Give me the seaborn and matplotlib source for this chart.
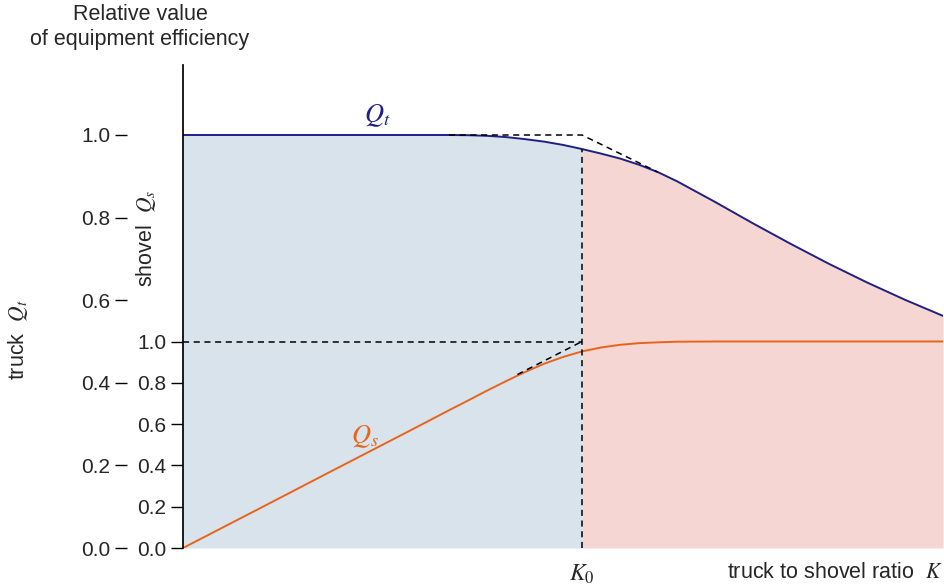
import matplotlib
matplotlib.use("Agg")
import matplotlib.pyplot as plt
import seaborn as sns
import numpy as np

sns.set_theme(style="white")
plt.rcParams['font.family'] = ['Liberation Sans', 'DejaVu Sans']
plt.rcParams['mathtext.fontset'] = 'stix'

K = [0, 0.1, 0.2, 0.3, 0.35, 0.375, 0.4, 0.425, 0.45, 0.475, 0.5, 0.525, 0.55, 0.575, 0.6, 0.625, 0.65, 0.7, 0.75, 0.8, 0.85, 0.9, 0.95, 1.0]
Qt = [1, 1, 1, 1, 1, 0.9995, 0.998, 0.995, 0.99, 0.984, 0.976, 0.966, 0.955, 0.943, 0.928, 0.91, 0.888, 0.838, 0.786, 0.736, 0.688, 0.643, 0.601, 0.562]
Qs = [0, 0.19, 0.381, 0.571, 0.667, 0.714, 0.762, 0.808, 0.852, 0.892, 0.925, 0.952, 0.971, 0.984, 0.992, 0.996, 0.999, 1, 1, 1, 1, 1, 1, 1]
K0 = 0.525
truck_ticks = [0.0, 0.2, 0.4, 0.6, 0.8, 1.0]
shovel_ticks = [0.0, 0.2, 0.4, 0.6, 0.8, 1.0]
SH = 0.5  # shovel 1.0 sits at truck 0.5

Kf = np.array(K); Qtf = np.array(Qt); Qsf = np.array(Qs) * SH

fig = plt.figure(figsize=(9.44, 5.86), dpi=100)
ax = fig.add_axes([183/944, 1-548/586, 760/944, 483/586])
ax.set_xlim(0, 1); ax.set_ylim(0, 483/413)

m1 = Kf <= K0
ax.fill_between(Kf[m1], 0, Qtf[m1], color='#d9e3ec', lw=0)
m2 = Kf >= K0
ax.fill_between(Kf[m2], 0, Qtf[m2], color='#f5d6d3', lw=0)

sns.lineplot(x=Kf, y=Qtf, ax=ax, color='#1f1f85', lw=1.4)
sns.lineplot(x=Kf, y=Qsf, ax=ax, color='#e8641a', lw=1.4)

dk = dict(color='black', ls=(0, (4, 3)), lw=1.1)
ax.plot([0.35, K0, 0.625], [1, 1, 0.91], **dk)
ax.plot([K0, K0], [0, 0.966], **dk)
ax.plot([0, K0], [SH, SH], **dk)
ax.plot([0.44, K0], [0.84*SH, SH], **dk)

ax.text(0.255, 1.03, r'$Q_t$', color='#1f1f85', fontsize=19, ha='center')
ax.text(0.24, 0.255, r'$Q_s$', color='#e8641a', fontsize=19, ha='center')

for s in ['top', 'right', 'bottom']:
    ax.spines[s].set_visible(False)
ax.spines['left'].set_color('black')
ax.set_xticks([]); ax.set_yticks([])

sec = ax.secondary_yaxis(0, functions=(lambda y: y/SH, lambda v: v*SH))
sec.set_yticks(shovel_ticks)
sec.set_yticklabels([f'{v:.1f}' for v in shovel_ticks])
sec.tick_params(axis='y', length=9, width=1, labelsize=15, pad=3, color='black')
sec.spines['left'].set_visible(False)

tr = ax.secondary_yaxis(-56/760)
tr.set_yticks(truck_ticks)
tr.set_yticklabels([f'{v:.1f}' for v in truck_ticks])
tr.tick_params(axis='y', length=9, width=1, labelsize=15, pad=3, color='black')
tr.spines['left'].set_visible(False)

fig.text(18/944, 1-340/586, r'truck  $Q_t$', rotation=90, ha='center', va='center', fontsize=15.5)
fig.text(146/944, 1-238/586, r'shovel  $Q_s$', rotation=90, ha='center', va='center', fontsize=15.5)
fig.text(140/944, 1-4/586, 'Relative value\nof equipment efficiency', ha='center', va='top', fontsize=15.5, linespacing=1.25)
ax.text(K0, -0.035, r'$K_0$', ha='center', va='top', fontsize=17)
ax.text(1.0, -0.035, r'truck to shovel ratio  $K$', ha='right', va='top', fontsize=15.5)

fig.savefig('out.png', dpi=100)
